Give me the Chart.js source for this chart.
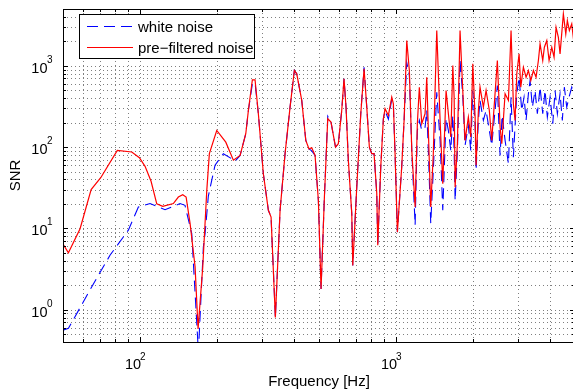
<!DOCTYPE html>
<html>
<head>
<meta charset="utf-8">
<script src="https://cdn.jsdelivr.net/npm/chart.js@4.4.0/dist/chart.umd.min.js"></script>
<style>
  html, body { margin: 0; padding: 0; background: #fff; overflow: hidden; }
  #snrChart { display: block; }
</style>
</head>
<body>
<canvas id="snrChart" width="576" height="392"></canvas>
<script>
// SNR vs frequency (Hz, linear SNR)
const whiteFreq = [50, 52.5, 55.7, 64.7, 76.4, 90, 98.5, 109.4, 125.2, 143.3, 149.8, 159.2, 169, 176.7, 179.5,
  184.8, 196.3, 211.5, 228, 234.9, 245.9, 258.8, 264.9, 274.6, 281.3, 289.8, 303.1, 317.1, 324.9, 337.7,
  352.3, 368.5, 385.4, 400.6, 409.3, 428.1, 444, 457.1, 468.5, 482.6, 497.2, 509.3, 524.8, 541, 557,
  580, 594.9, 613.4, 626.2, 637.6, 651, 671.4, 677.4, 702.2, 728, 749.9, 768.3, 786.5, 803.5, 820.4,
  840.6, 848.2, 871.4, 892.1, 905.8, 933.3, 962.1, 976.1, 991, 1012, 1052, 1075, 1101, 1127, 1152,
  1187, 1211, 1233, 1260, 1298, 1318, 1337, 1366, 1398, 1442, 1486, 1522, 1568, 1601, 1636, 1666,
  1686, 1701, 1736, 1778, 1822, 1860, 1916, 1958, 1994, 2036, 2054, 2097, 2128, 2193, 2247, 2314,
  2364, 2436, 2487, 2549, 2595, 2666, 2747, 2813, 2872, 2962, 3024, 3097, 3162, 3220, 3288, 3338,
  3408, 3491, 3564, 3652, 3741, 3819, 3899, 3996, 4094, 4180, 4267, 4371, 4462, 4543, 4642, 4739,
  4856, 4958];
const whiteSnr = [0.56, 0.59, 0.82, 1.9, 4.7, 9.5, 18.3, 20.2, 17, 20.2, 19.2, 8.6, 0.3, 5.9, 8.7,
  25, 60, 83, 72, 67, 79, 146, 282, 600, 620, 257, 47, 16.7, 13.8, 0.8,
  16.7, 83, 310, 875, 798, 375, 121, 95, 90, 79, 22, 1.8, 24, 240, 203,
  100, 110, 282, 692, 310, 69, 15.2, 3.5, 32, 257, 960, 310, 100, 83, 83,
  27, 6.2, 57, 223, 280, 220, 390, 320, 83, 9.0, 57, 213, 1097, 760, 91,
  11, 160, 213, 160, 176, 282, 91, 11.5, 52, 474, 121, 16.7, 225, 160, 91, 245,
  91, 22, 91, 1162, 431, 105, 185, 91, 497, 185, 52, 213, 375, 213, 282, 160,
  105, 282, 573, 79, 245, 121, 63, 411, 75, 453, 724, 282, 411, 213, 453, 659,
  310, 497, 257, 546, 257, 497, 234, 411, 194, 497, 257, 453, 213, 546, 310, 411,
  546, 453];

const preFreq = [50, 52.5, 58.3, 64.4, 70.2, 81.5, 92.8, 99.4, 104.6, 110.4, 116.2, 122.7, 134.9, 141.1,
  146.8, 151.3, 156.8, 164, 168.5, 175.8, 182.2, 186.5, 199.3, 216.2, 231.5, 245.9, 258.8, 264.9, 274.6,
  281.3, 289.8, 303.1, 317.1, 324.9, 337.7, 352.3, 368.5, 385.4, 400.6, 409.3, 428.1, 444, 457.1, 468.5,
  482.6, 497.2, 509.3, 524.8, 541, 557, 580, 594.9, 613.4, 626.2, 637.6, 651, 671.4, 677.4, 702.2, 728,
  749.9, 768.3, 786.5, 803.5, 820.4, 840.6, 848.2, 871.4, 892.1, 905.8, 933.3, 962.1, 976.1, 991, 1012,
  1052, 1075, 1101, 1127, 1152, 1187, 1211, 1233, 1260, 1298, 1318, 1337, 1366, 1398, 1442, 1486, 1522,
  1568, 1601, 1636, 1666, 1686, 1701, 1736, 1778, 1822, 1860, 1916, 1958, 1994, 2036, 2054, 2097, 2128,
  2193, 2247, 2314, 2364, 2436, 2487, 2549, 2588, 2666, 2747, 2813, 2872, 2916, 2962, 3024, 3070, 3143,
  3220, 3288, 3360, 3439, 3523, 3597, 3652, 3741, 3796, 3879, 3960, 4057, 4142, 4217, 4305, 4371, 4503,
  4602, 4668, 4753, 4856, 4958];
const preSnr = [6.4, 5.0, 9.9, 30, 42, 91, 87, 74, 58, 38, 20, 18.7, 20.2, 24.3,
  26, 24.3, 11.5, 3.4, 0.58, 3.4, 29, 83, 160, 115, 69, 79, 146, 282, 673,
  673, 257, 47, 16.7, 13.8, 0.8, 16.7, 83, 310, 875, 798, 375, 121, 95, 98,
  79, 22, 1.8, 24, 223, 203, 100, 110, 282, 692, 310, 69, 15.2, 3.5, 32, 257,
  919, 310, 100, 83, 83, 27, 6.2, 57, 223, 296, 245, 411, 341, 83, 9.0,
  57, 213, 2046, 875, 91, 18.3, 194, 546, 194, 257, 724, 160, 18.3, 83, 2717, 213, 35.5,
  497, 257, 133, 1008, 411, 32, 110, 2717, 497, 121, 234, 133, 1058, 234, 60, 282, 546,
  310, 497, 282, 121, 453, 1162, 176, 110, 453, 375, 2717, 341, 213, 798, 1403, 546, 961,
  724, 875, 659, 875, 724, 1162, 1864, 1162, 1692, 2046, 1162, 1692, 1276, 2980, 2245, 1403, 4355,
  2472, 3602, 2717, 3281, 1864];

// axis ranges, decade labels and grid positions
const xRange = [50, 5000];
const yRange = [0.4, 5000];
const xDecades = [100, 1000];
const yDecades = [1, 10, 100, 1000];
const xGrid = [60, 70, 80, 90, 100, 200, 300, 400, 500, 600, 700, 800, 900, 1000, 2000, 3000, 4000];
const yGrid = [0.5, 0.6, 0.7, 0.8, 0.9, 1, 2, 3, 4, 5, 6, 7, 8, 9, 10, 20, 30, 40, 50, 60, 70, 80, 90,
  100, 200, 300, 400, 500, 600, 700, 800, 900, 1000, 2000, 3000, 4000];

const FONT = "'Liberation Sans', Arial, Helvetica, sans-serif";
const RED = '#ff0000';
const BLUE = '#0000ff';
const toPoints = (fs, vs) => fs.map((f, i) => ({ x: f, y: vs[i] }));
const isDecade = v => Math.abs(Math.log10(v) - Math.round(Math.log10(v))) < 1e-9;

// matlab-ish frame: dotted grid, inward ticks, 10^n labels, boxed legend
const matlabAxes = {
  id: 'matlabAxes',
  beforeDatasetsDraw(chart) {
    const { ctx, chartArea: a, scales: { x, y } } = chart;
    ctx.save();
    ctx.strokeStyle = 'rgba(0,0,0,0.5)';
    ctx.lineWidth = 1;
    ctx.setLineDash([1, 3]);
    xGrid.forEach(v => {
      const px = Math.round(x.getPixelForValue(v)) + 0.5;
      ctx.beginPath(); ctx.moveTo(px, a.top); ctx.lineTo(px, a.bottom); ctx.stroke();
    });
    yGrid.forEach(v => {
      const py = Math.round(y.getPixelForValue(v)) + 0.5;
      ctx.beginPath(); ctx.moveTo(a.left, py); ctx.lineTo(a.right, py); ctx.stroke();
    });
    ctx.restore();
  },
  afterDatasetsDraw(chart) {
    const { ctx, chartArea: a, scales: { x, y } } = chart;
    ctx.save();
    ctx.strokeStyle = '#000';
    ctx.lineWidth = 1;

    // tick marks, pointing inwards
    xGrid.forEach(v => {
      const px = Math.round(x.getPixelForValue(v)) + 0.5;
      const len = isDecade(v) ? 5 : 3;
      ctx.beginPath();
      ctx.moveTo(px, a.bottom); ctx.lineTo(px, a.bottom - len);
      ctx.moveTo(px, a.top); ctx.lineTo(px, a.top + len);
      ctx.stroke();
    });
    yGrid.forEach(v => {
      const py = Math.round(y.getPixelForValue(v)) + 0.5;
      const len = isDecade(v) ? 5 : 3;
      ctx.beginPath();
      ctx.moveTo(a.left, py); ctx.lineTo(a.left + len, py);
      ctx.moveTo(a.right, py); ctx.lineTo(a.right - len, py);
      ctx.stroke();
    });
    ctx.strokeRect(a.left + 0.5, a.top + 0.5, a.right - a.left - 1, a.bottom - a.top);

    // tick labels 10^n
    ctx.fillStyle = '#000';
    ctx.textBaseline = 'alphabetic';
    xDecades.forEach(v => {
      const px = x.getPixelForValue(v);
      ctx.font = '14.5px ' + FONT;
      ctx.textAlign = 'right';
      ctx.fillText('10', px + 1, a.bottom + 27);
      ctx.font = '10px ' + FONT;
      ctx.textAlign = 'left';
      ctx.fillText(String(Math.round(Math.log10(v))), px, a.bottom + 18);
    });
    yDecades.forEach(v => {
      const py = y.getPixelForValue(v);
      ctx.font = '14.5px ' + FONT;
      ctx.textAlign = 'right';
      ctx.fillText('10', a.left - 15.5, py + 7);
      ctx.font = '10px ' + FONT;
      ctx.textAlign = 'left';
      ctx.fillText(String(Math.round(Math.log10(v))), a.left - 16, py - 3);
    });

    // axis titles
    ctx.font = '15px ' + FONT;
    ctx.textAlign = 'center';
    ctx.fillText('Frequency [Hz]', (a.left + a.right) / 2, 386);
    ctx.save();
    ctx.translate(20, (a.top + a.bottom) / 2);
    ctx.rotate(-Math.PI / 2);
    ctx.fillText('SNR', 0, 0);
    ctx.restore();

    // legend box (white noise first, like the original)
    const lx = 79.5, ly = 14.5, lw = 175, lh = 44;
    ctx.fillStyle = '#fff';
    ctx.fillRect(lx, ly, lw, lh);
    ctx.strokeRect(lx, ly, lw, lh);
    const rows = [
      { label: 'white noise', color: BLUE, dash: [11, 6] },
      { label: 'pre\u2212filtered noise', color: RED, dash: [] }
    ];
    rows.forEach((r, i) => {
      const ry = 26.5 + i * 21;
      ctx.save();
      ctx.strokeStyle = r.color;
      ctx.lineWidth = 1;
      ctx.setLineDash(r.dash);
      ctx.beginPath(); ctx.moveTo(87, ry); ctx.lineTo(133, ry); ctx.stroke();
      ctx.restore();
      ctx.fillStyle = '#000';
      ctx.font = '15px ' + FONT;
      ctx.textAlign = 'left';
      ctx.textBaseline = 'middle';
      ctx.fillText(r.label, 138, ry + 1.5);
    });
    ctx.restore();
  }
};

new Chart(document.getElementById('snrChart'), {
  type: 'line',
  data: {
    datasets: [
      {
        label: 'pre\u2212filtered noise',
        data: toPoints(preFreq, preSnr),
        borderColor: RED,
        borderWidth: 1.2,
        pointRadius: 0,
        tension: 0
      },
      {
        label: 'white noise',
        data: toPoints(whiteFreq, whiteSnr),
        borderColor: BLUE,
        borderWidth: 1.1,
        borderDash: [11, 6],
        pointRadius: 0,
        tension: 0
      }
    ]
  },
  options: {
    responsive: false,
    animation: false,
    devicePixelRatio: 1,
    layout: { padding: { left: 63, right: 1, top: 9, bottom: 50 } },
    plugins: { legend: { display: false }, tooltip: { enabled: false } },
    scales: {
      x: { type: 'logarithmic', min: xRange[0], max: xRange[1], display: false },
      y: { type: 'logarithmic', min: yRange[0], max: yRange[1], display: false }
    }
  },
  plugins: [matlabAxes]
});
</script>
</body>
</html>
